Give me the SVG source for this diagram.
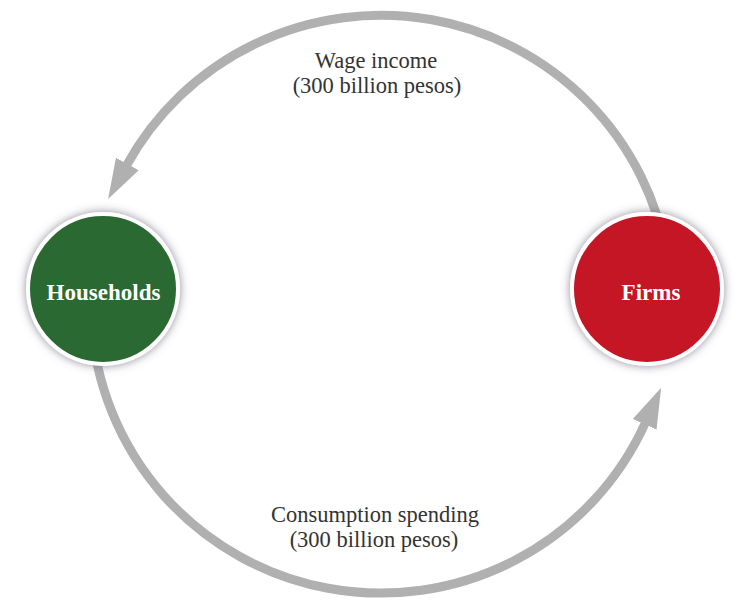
<svg xmlns="http://www.w3.org/2000/svg" width="735" height="600" viewBox="0 0 735 600">
  <style>
    .flow { fill: none; stroke: #b0b0b0; stroke-width: 9; }
    .node-circle { stroke: #ffffff; stroke-width: 4; }
    .node-label { font-family: "Liberation Serif", "Times New Roman", serif; font-weight: bold; font-size: 23px; fill: #ffffff; text-anchor: middle; }
    .flow-label { font-family: "Liberation Serif", "Times New Roman", serif; font-size: 22.5px; fill: #333333; text-anchor: middle; }
  </style>
  <defs>
    <marker id="arrow" markerUnits="userSpaceOnUse" viewBox="0 0 40 26" refX="2" refY="13" markerWidth="40" markerHeight="26" orient="auto">
      <path d="M0,0 L40,13 L0,26 z" fill="#b0b0b0"/>
    </marker>
    <filter id="glow" x="-30%" y="-30%" width="160%" height="160%">
      <feGaussianBlur in="SourceAlpha" stdDeviation="5" result="b"/>
      <feFlood flood-color="#5f5a6e" flood-opacity="0.7"/>
      <feComposite operator="in" in2="b" result="s"/>
      <feMerge><feMergeNode in="s"/><feMergeNode in="SourceGraphic"/></feMerge>
    </filter>
  </defs>

  <rect width="735" height="600" fill="#ffffff"/>

  <g id="connectors">
    <path id="wage-flow" class="flow" d="M667.5,260 A290,289 0 0 0 126.4,165.7" marker-end="url(#arrow)"/>
    <path id="spending-flow" class="flow" d="M91.4,320 A290,289 0 0 0 645.5,422.5" marker-end="url(#arrow)"/>
  </g>

  <g id="households">
    <circle class="node-circle" cx="103" cy="289" r="75" fill="#2b6b32" filter="url(#glow)"/>
    <text class="node-label" x="103.5" y="300">Households</text>
  </g>

  <g id="firms">
    <circle class="node-circle" cx="647" cy="289" r="75" fill="#c51526" filter="url(#glow)"/>
    <text class="node-label" x="651" y="300">Firms</text>
  </g>

  <g id="labels">
    <text class="flow-label" x="376" y="68">Wage income</text>
    <text class="flow-label" x="377" y="93">(300 billion pesos)</text>
    <text class="flow-label" x="375" y="522">Consumption spending</text>
    <text class="flow-label" x="374" y="547">(300 billion pesos)</text>
  </g>
</svg>
